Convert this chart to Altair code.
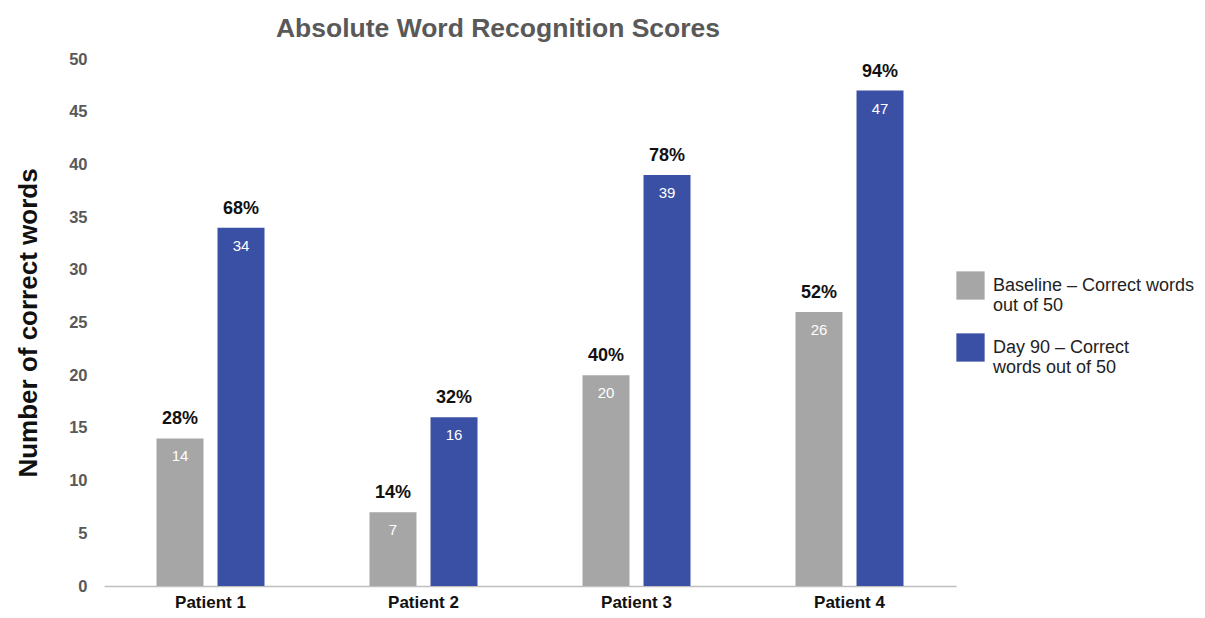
import altair as alt
import pandas as pd

patients = ["Patient 1", "Patient 2", "Patient 3", "Patient 4"]
baseline = [14, 7, 20, 26]
day90 = [34, 16, 39, 47]
series_names = ["Baseline – Correct words out of 50", "Day 90 – Correct words out of 50"]
colors = ["#A6A6A6", "#3A50A4"]

rows = []
for i, p in enumerate(patients):
    for s, vals in zip(series_names, [baseline, day90]):
        v = vals[i]
        rows.append({"patient": p, "series": s, "value": v, "pct": f"{round(v / 50 * 100)}%"})
df = pd.DataFrame(rows)

x = alt.X("patient:N", sort=patients, title=None,
          scale=alt.Scale(paddingInner=0.493, paddingOuter=0.2465),
          axis=alt.Axis(labelAngle=0, labelFont="Liberation Sans", labelFontSize=17,
                        labelFontWeight="bold", labelColor="#111111", ticks=False,
                        domainColor="#BFBFBF", domainWidth=1.5, labelPadding=8))
xo = alt.XOffset("series:N", sort=series_names,
                 scale=alt.Scale(paddingInner=0.23, paddingOuter=0))
y = alt.Y("value:Q", title="Number of correct words",
          scale=alt.Scale(domain=[0, 50]),
          axis=alt.Axis(values=list(range(0, 51, 5)), grid=False, domain=False, ticks=False,
                        labelFont="Liberation Sans", labelFontSize=16.5, labelFontWeight="bold",
                        labelColor="#595959", labelPadding=17,
                        titleFont="Liberation Sans", titleFontSize=26, titleFontWeight="bold",
                        titleColor="#111111", titlePadding=27))

base = alt.Chart(df).encode(x=x, xOffset=xo, y=y)

bars = base.mark_bar().encode(
    color=alt.Color("series:N", sort=series_names,
                    scale=alt.Scale(domain=series_names, range=colors),
                    legend=alt.Legend(title=None, orient="none", legendX=852, legendY=212,
                                      symbolType="square", symbolSize=800, symbolStrokeWidth=0,
                                      labelFont="Liberation Sans", labelFontSize=18,
                                      labelColor="#222222", labelLimit=300,
                                      labelExpr="datum.label == 'Baseline – Correct words out of 50' ? ['Baseline – Correct words', 'out of 50'] : ['Day 90 – Correct', 'words out of 50']",
                                      rowPadding=18, labelOffset=8))
)

inner = base.mark_text(baseline="middle", dy=18, color="white", fontSize=15,
                       font="Liberation Sans").encode(text="value:Q")

pct = base.mark_text(baseline="bottom", dy=-10, color="#111111", fontSize=18,
                     fontWeight="bold", font="Liberation Sans").encode(text="pct:N")

chart = alt.layer(bars, inner, pct).properties(
    width=852, height=527,
    title=alt.TitleParams("Absolute Word Recognition Scores", font="Liberation Sans",
                          fontSize=26.5, fontWeight="bold", color="#595959",
                          anchor="middle", offset=9, dx=-32),
    autosize=alt.AutoSizeParams(type="none"),
    padding={"left": 96, "top": 51, "right": 241, "bottom": 24},
).configure_view(stroke=None)

chart.save("out.html", embed_options={"renderer": "svg", "actions": False})
